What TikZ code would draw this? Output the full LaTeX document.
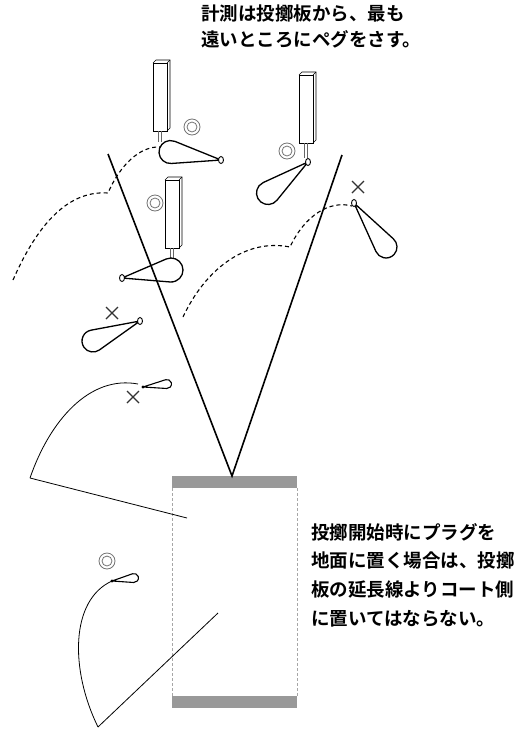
\documentclass[tikz,border=0pt]{standalone}
\usepackage{fontspec}
\newfontfamily\jpfont{Noto Sans CJK JP}[BoldFont={Noto Sans CJK JP Bold}]
\usetikzlibrary{calc}

\begin{document}
\begin{tikzpicture}[x=1pt, y=-1pt,
    sector/.style={line width=1.6pt},
    throw/.style={line width=1.1pt, dash pattern=on 4pt off 3pt},
    flight/.style={line width=0.8pt},
    pegline/.style={line width=1.3pt, line join=round},
    postline/.style={line width=0.6pt},
    ring/.style={draw=black!55, line width=0.8pt},
    miss/.style={draw=black!80, line width=1.2pt},
    note/.style={font=\jpfont\bfseries, align=left, inner sep=0pt, anchor=north west}]

    \useasboundingbox (0,0) rectangle (531,729);

    % throwing board area
    \fill[black!40] (172,476) rectangle (297,488);
    \fill[black!40] (172,696) rectangle (297,708);
    \draw[black!35, line width=0.7pt, dash pattern=on 3pt off 2pt]
      (172,488) -- (172,696) (297,488) -- (297,696);

    % flights of the throws
    \draw[throw] (13,280) .. controls (35,230) and (65,190) .. (108,193)
      .. controls (120,165) and (140,146) .. (160,147);
    \draw[throw] (183,317) .. controls (205,270) and (245,238) .. (290,247)
      .. controls (305,215) and (330,200) .. (352,206);
    \draw[flight] (30,478) .. controls (50,420) and (90,375) .. (138,384);
    \draw[flight] (98,727) .. controls (70,670) and (70,600) .. (112,581);

    % board extension lines
    \draw[flight] (30,478) -- (187,518);
    \draw[flight] (98,727) -- (218,613);

    % sector lines
    \coordinate (apex) at (232,476);
    \draw[sector] (108,154) -- (apex) -- (342,155);

    % measuring posts
    \foreach \px/\py/\sl in {153/63/11, 165/180/10, 299/75/15}
    {
      \draw[postline] (\px,\py) rectangle ++(14,68);
      \draw[postline] (\px,\py) -- ++(3,-3) -- ++(14,0) -- ++(0,68) -- ++(-3,3);
      \draw[postline] (\px+14,\py) -- ++(3,-3);
      \draw[postline, black!60] (\px+5.5,\py+68) -- ++(0,\sl) (\px+8.5,\py+68) -- ++(0,\sl);
    }

    % pegs: tail, bulb centre, bulb radius
    \foreach \tx/\ty/\bx/\by/\r in
    {221/160/170.5/152/11.5, 122/278/171/270/12, 308/162/268/193/11.5,
     354/203/386/247/11, 140/321/93/341/11}
    {
      \pgfmathsetmacro{\pegdir}{atan2(\ty-\by,\tx-\bx)}
      \pgfmathsetmacro{\pegopen}{acos(\r/veclen(\tx-\bx,\ty-\by))}
      \draw[pegline] (\tx,\ty) -- ($(\bx,\by)+(\pegdir+\pegopen:\r)$)
        arc[start angle=\pegdir+\pegopen, end angle=\pegdir-\pegopen+360, radius=\r] -- cycle;
      \filldraw[fill=white, line width=0.9pt] (\tx,\ty) ellipse[x radius=2.5, y radius=3.5];
    }

    % pegs left lying on the ground
    \foreach \tx/\ty/\bx/\by in {143/387/167/384, 112/581/134/578}
    {
      \pgfmathsetmacro{\pegdir}{atan2(\ty-\by,\tx-\bx)}
      \pgfmathsetmacro{\pegopen}{acos(4.5/veclen(\tx-\bx,\ty-\by))}
      \draw[pegline, line width=1.1pt] (\tx,\ty) -- ($(\bx,\by)+(\pegdir+\pegopen:4.5)$)
        arc[start angle=\pegdir+\pegopen, end angle=\pegdir-\pegopen+360, radius=4.5] -- cycle;
      \fill (\tx,\ty) circle (1.6);
    }

    \foreach \rx/\ry in {192/127, 155/203, 287/151, 107/561}
    {
      \draw[ring] (\rx,\ry) circle (8) (\rx,\ry) circle (5);
    }

    \foreach \cx/\cy in {112/313, 358/187, 133/397}
    {
      \draw[miss] (\cx-6,\cy-6) -- (\cx+6,\cy+6) (\cx-6,\cy+6) -- (\cx+6,\cy-6);
    }

    \node[note, font=\jpfont\bfseries\fontsize{18.5}{26}\selectfont] (measure) at (201,5)
      {計測は投擲板から、最も\\遠いところにペグをさす。};
    \node[note, font=\jpfont\bfseries\fontsize{18.5}{28.7}\selectfont] (placing) at (311,523)
      {投擲開始時にプラグを\\地面に置く場合は、投擲\\板の延長線よりコート側\\に置いてはならない。};
  \end{tikzpicture}
\end{document}
